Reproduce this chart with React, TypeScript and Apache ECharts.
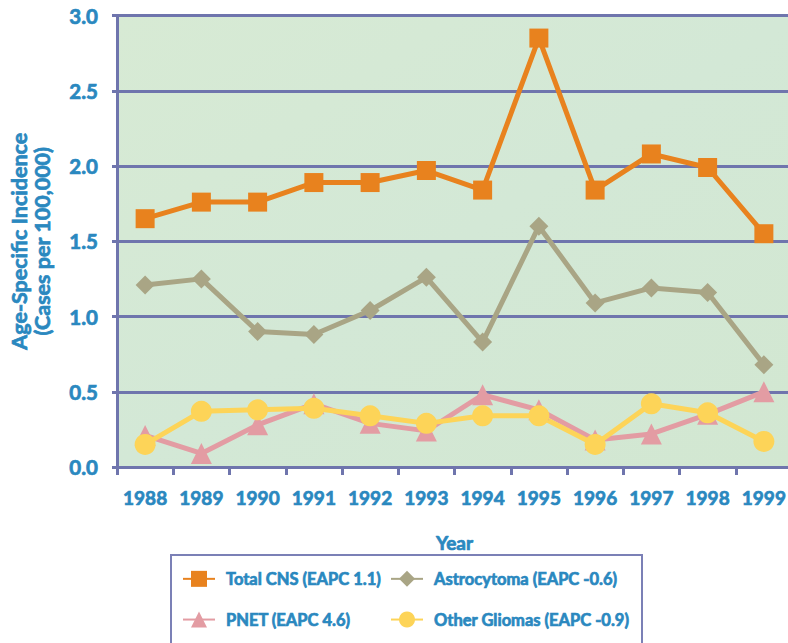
import React, { useEffect, useRef } from "react";
import * as echarts from "echarts";

const years = ["1988", "1989", "1990", "1991", "1992", "1993", "1994", "1995", "1996", "1997", "1998", "1999"];
const totalCNS = [1.65, 1.76, 1.76, 1.89, 1.89, 1.97, 1.84, 2.85, 1.84, 2.08, 1.99, 1.55];
const astrocytoma = [1.21, 1.25, 0.9, 0.88, 1.04, 1.26, 0.83, 1.6, 1.09, 1.19, 1.16, 0.68];
const pnet = [0.21, 0.09, 0.28, 0.42, 0.29, 0.24, 0.48, 0.38, 0.18, 0.22, 0.35, 0.5];
const otherGliomas = [0.15, 0.37, 0.38, 0.39, 0.34, 0.29, 0.34, 0.34, 0.15, 0.42, 0.36, 0.17];
const seriesNames = ["Total CNS (EAPC 1.1)", "Astrocytoma (EAPC -0.6)", "PNET (EAPC 4.6)", "Other Gliomas (EAPC -0.9)"];

const BLUE = "#2A88BF";
const AXIS = "#6F75AD";
const FONT = "Lato, 'Open Sans', sans-serif";
const W = 900;

export default function App() {
  const ref = useRef<HTMLDivElement>(null);
  useEffect(() => {
    if (!ref.current) return;
    const chart = echarts.init(ref.current, null, { renderer: "svg" });
    const mk = (name: string, data: number[], color: string, symbol: string, size: number) => ({
      name,
      type: "line",
      data,
      symbol,
      symbolSize: size,
      showAllSymbol: true,
      itemStyle: { color },
      lineStyle: { color, width: 5 },
    });
    const heavy = { color: BLUE, fontWeight: "bold", fontFamily: FONT, textBorderColor: BLUE, textBorderWidth: 0.7 };
    const legendText = { ...heavy, fontSize: 16.5, padding: [0, 0, 0, 6] };
    chart.setOption({
      animation: false,
      backgroundColor: "#ffffff",
      textStyle: { fontFamily: FONT },
      grid: {
        left: 117,
        width: 675,
        top: 15.5,
        bottom: 176,
        show: true,
        borderWidth: 0,
        outerBoundsMode: "none",
        containLabel: false,
        backgroundColor: new echarts.graphic.LinearGradient(0, 0, 1, 1, [
          { offset: 0, color: "#D7EAD4" },
          { offset: 0.5, color: "#D3E8D6" },
          { offset: 1, color: "#D2E7D1" },
        ]),
      },
      xAxis: {
        type: "category",
        data: years,
        boundaryGap: true,
        name: "Year",
        nameLocation: "middle",
        nameGap: 66,
        nameTextStyle: { ...heavy, fontSize: 19 },
        axisLine: { lineStyle: { color: AXIS, width: 3 } },
        axisTick: { show: true, interval: 0, length: 8, lineStyle: { color: AXIS, width: 3 } },
        axisLabel: { ...heavy, fontSize: 19, margin: 21, interval: 0, hideOverlap: false },
        splitLine: { show: false },
      },
      yAxis: {
        type: "value",
        min: 0,
        max: 3,
        interval: 0.5,
        name: "Age-Specific Incidence\n(Cases per 100,000)",
        nameLocation: "middle",
        nameRotate: 90,
        nameGap: 64,
        nameTextStyle: { ...heavy, fontSize: 21.5, lineHeight: 23 },
        axisLine: { show: true, lineStyle: { color: AXIS, width: 3 } },
        axisTick: { show: true, length: 5, lineStyle: { color: AXIS, width: 3 } },
        axisLabel: {
          ...heavy,
          fontSize: 20.5,
          margin: 19,
          formatter: (v: number) => v.toFixed(1),
        },
        splitLine: { show: true, lineStyle: { color: AXIS, width: 3 } },
      },
      legend: [
        {
          data: [seriesNames[0], seriesNames[2]],
          orient: "vertical",
          left: 182,
          top: 570,
          padding: 0,
          itemWidth: 32,
          itemHeight: 20,
          itemGap: 23,
          textStyle: legendText,
        },
        {
          data: [seriesNames[1], seriesNames[3]],
          orient: "vertical",
          left: 390,
          top: 570,
          padding: 0,
          itemWidth: 32,
          itemHeight: 20,
          itemGap: 23,
          textStyle: legendText,
        },
      ],
      graphic: [
        {
          type: "rect",
          z: -1,
          shape: { x: 171, y: 555, width: 471, height: 110 },
          style: { fill: "#ffffff", stroke: "#7B80B6", lineWidth: 2 },
        },
      ],
      series: [
        mk(seriesNames[0], totalCNS, "#E8821E", "rect", 19),
        mk(seriesNames[1], astrocytoma, "#A9A585", "diamond", 19),
        mk(seriesNames[2], pnet, "#E39CA3", "triangle", 21),
        mk(seriesNames[3], otherGliomas, "#FDD458", "circle", 21),
      ],
    });
    return () => chart.dispose();
  }, []);
  return (
    <div style={{ position: "absolute", left: 0, top: 0, width: 788, height: 643, overflow: "hidden" }}>
      <div ref={ref} style={{ width: W, height: 643 }} />
    </div>
  );
}
